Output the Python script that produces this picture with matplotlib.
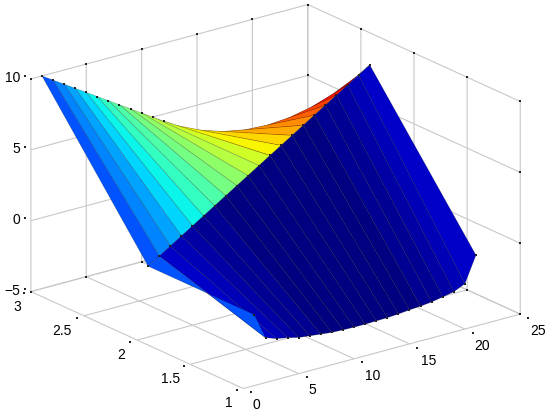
import matplotlib
matplotlib.use('Agg')

import matplotlib.pyplot as plt
from matplotlib.transforms import ScaledTranslation
import numpy as np

x_vals = [1, 2, 3, 4, 5, 6, 7, 8, 9, 10, 11, 12, 13, 14, 15, 16, 17, 18, 19, 20, 21]
y_vals = [1, 2, 3]

z_front = [0, -1.83, -2.11, -2.25, -2.45, -2.54, -2.63, -2.72, -2.75, -2.77, -2.77,
           -2.75, -2.73, -2.68, -2.60, -2.55, -2.46, -2.32, -2.16, -1.81, 0]
z_ridge = [0, 0.5, 1, 1.5, 2, 2.5, 3, 3.5, 4, 4.5, 5,
           5.5, 6, 6.5, 7, 7.5, 8, 8.5, 9, 9.5, 10]
z_back = [10, 9.5, 9, 8.5, 8, 7.5, 7, 6.5, 6, 5.5, 5,
          4.5, 4, 3.5, 3, 2.5, 2, 1.5, 1, 0.5, 0]

x_ticks = [0, 5, 10, 15, 20, 25]
y_ticks = [1, 1.5, 2, 2.5, 3]
z_ticks = [-5, 0, 5, 10]
y_ticklabels = ["1", "1.5", "2", "2.5", "3"]

plt.rcParams['font.family'] = ['Liberation Sans', 'DejaVu Sans']
plt.rcParams['font.size'] = 10
plt.rcParams['grid.color'] = '#c8c8c8'
plt.rcParams['grid.linewidth'] = 0.8

fig = plt.figure(figsize=(5.5, 4.14), dpi=100)
# axes bigger than the figure so nothing of the box gets clipped
ax = fig.add_axes([-12 / 550, -71.1 / 414, 560 / 550, 560 / 414], projection='3d', proj_type='ortho')
ax.computed_zorder = False
ax.view_init(elev=20.5, azim=-127.5)
ax.set_box_aspect((349, 349, 227), zoom=0.9418)
ax.patch.set_alpha(0)

X, Y = np.meshgrid(x_vals, y_vals)
Z = np.array([z_front, z_ridge, z_back])

cmap = plt.get_cmap('jet', 64)
norm = plt.Normalize(Z.min(), Z.max())
surf = ax.plot_surface(X, Y, Z, rstride=1, cstride=1, facecolors=cmap(norm(Z)), shade=False,
                       linewidth=0.5, zorder=2)
surf.set_edgecolor((0, 0, 0, 0.25))

ax.set_xlim(0, 25, view_margin=0)
ax.set_ylim(1, 3, view_margin=0)
ax.set_zlim(-5, 10, view_margin=0)
ax.set_xticks(x_ticks)
ax.set_yticks(y_ticks)
ax.set_zticks(z_ticks)
ax.set_yticklabels(y_ticklabels)

for axis in (ax.xaxis, ax.yaxis, ax.zaxis):
    axis.set_pane_color((1, 1, 1, 0))
    axis.line.set_color((0, 0, 0, 0))
for name in 'xyz':
    ax.tick_params(axis=name, color=(0, 0, 0, 0), pad=0, labelsize=10)


# nudge the tick labels, pixels right and up. Axis3D.get_major_ticks resets the
# label transform on every call so it has to be wrapped
def shift_labels(axis, dx, dy, ha='center'):
    orig = axis.get_major_ticks

    def get_major_ticks(numticks=None):
        ticks = orig(numticks)
        for tick, px in zip(ticks, dx):
            tick.label1.set_ha(ha)
            tick.label1.set_transform(ax.transData + ScaledTranslation(px / 100, dy / 100, fig.dpi_scale_trans))
        return ticks
    axis.get_major_ticks = get_major_ticks


shift_labels(ax.xaxis, [5, 5, 10, 11, 9, 10], 3)
shift_labels(ax.yaxis, [0, 0, -1, -2, 1], 4, ha='right')
shift_labels(ax.zaxis, [8, 8, 8, 8], 8, ha='right')

# small tick dots on the box edges
dot = dict(ls='none', marker='s', ms=1.5, color='#222222', mew=0, zorder=1)
for z in (-5, 10):
    ax.plot(x_ticks, [3] * len(x_ticks), [z] * len(x_ticks), **dot)
    ax.plot([25] * len(y_ticks), y_ticks, [z] * len(y_ticks), **dot)
for y in (1, 3):
    ax.plot([25] * len(z_ticks), [y] * len(z_ticks), z_ticks, **dot)
ax.plot(x_ticks, [0.925] * len(x_ticks), [-5] * len(x_ticks), **dot)
ax.plot([-0.6] * len(y_ticks), y_ticks, [-5] * len(y_ticks), **dot)
ax.plot([0] * len(z_ticks), [3.06] * len(z_ticks), z_ticks, **dot)

# dots on the surface vertices along its visible edges
edge = dict(ls='none', marker='s', ms=1.5, color='#222222', mew=0, zorder=3)
ax.plot(x_vals, [1] * len(x_vals), z_front, **edge)
ax.plot(x_vals, [2] * len(x_vals), z_ridge, **edge)
ax.plot(x_vals[:12], [3] * 12, z_back[:12], **edge)

fig.savefig("out.png", dpi=100)
